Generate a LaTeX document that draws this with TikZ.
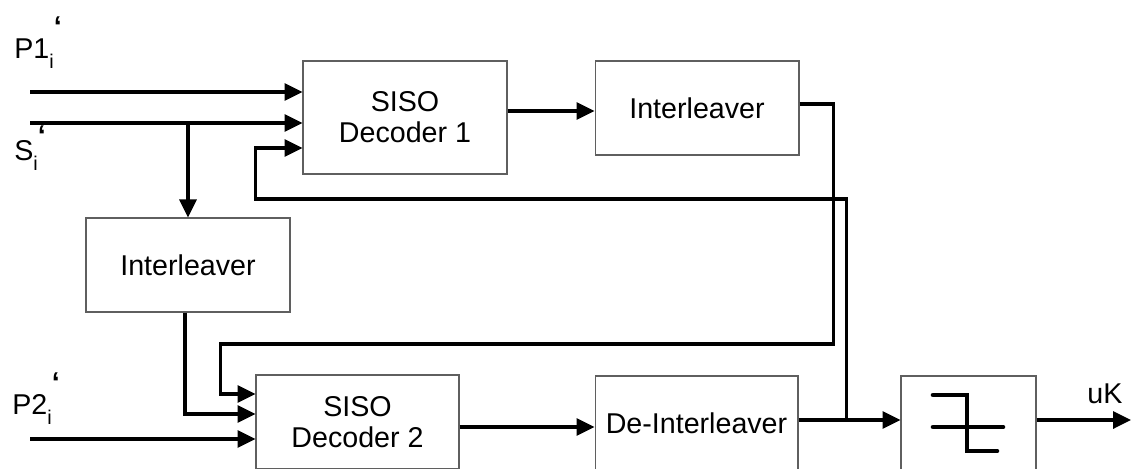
\documentclass[tikz,border=0pt]{standalone}
\usepackage{fontspec}
\setmainfont{Liberation Sans}
\usepackage{tikz}
\usetikzlibrary{arrows.meta, positioning, calc}
\definecolor{boxgray}{RGB}{95, 95, 95}
\tikzstyle{block} = [draw=boxgray, line width=0.6pt, minimum width=4.08cm, minimum height=1.88cm, align=center, inner sep=0pt]
\tikzstyle{arrow} = [-{Triangle[length=3.6mm, width=3.4mm]}, line width=1.9pt]
% input label: name, subscript i, and a raised quote mark
\newcommand{\inlabel}[3]{#1\raisebox{#2}{\fontsize{11.3}{12}\selectfont i}\raisebox{#3}{\bfseries ‘}}

\begin{document}
\begin{tikzpicture}[x=0.02cm, y=-0.02cm, font=\fontsize{16.3}{17.6}\selectfont]
    \useasboundingbox (0,0) rectangle (1132,468);
    \clip (0,0) rectangle (1132,468);

    % Blocks
    \node[block, minimum height=2.26cm] (dec1) at (405,117.5) {SISO\\Decoder 1};
    \node[block] (ilvA) at (697,108) {Interleaver};
    \node[block] (ilvB) at (188,265) {Interleaver};
    \node[block, minimum width=4.06cm] (dec2) at (357.5,422) {SISO\\Decoder 2};
    \node[block, minimum width=4.06cm] (deilv) at (696.5,423) {De-Interleaver};
    \node[block, minimum width=2.7cm] (hard) at (968.5,423) {};

    % Hard decision symbol
    \draw[line width=2.6pt, line cap=round]
        ([shift={(-35.5,-28)}]hard.center) -- ++(34,0) -- ++(0,56) -- ++(30,0);
    \draw[line width=2.6pt, line cap=round]
        ([shift={(-35.5,4)}]hard.center) -- ++(70,0);

    % Inputs
    \coordinate (p1in) at (30,92);
    \coordinate (sin) at (30,123);
    \coordinate (p2in) at (30,439);
    \coordinate (uk) at (1131,420);

    \node[anchor=base west, inner sep=0pt] (p1lbl) at (14,58) {\inlabel{P1}{-5.7pt}{12pt}};
    \node[anchor=base west, inner sep=0pt] (slbl) at (14,160) {\inlabel{S}{-5.7pt}{8pt}};
    \node[anchor=base west, inner sep=0pt] (p2lbl) at (12,414) {\inlabel{P2}{-5.7pt}{12.5pt}};

    \draw[arrow] (p1in) -- (p1in -| dec1.west);
    \draw[arrow] (sin) -- (sin -| dec1.west);
    \draw[arrow] (sin -| ilvB.north) -- (ilvB.north);
    \draw[arrow] (p2in) -- (p2in -| dec2.west);

    % Decoder 1 -> Interleaver
    \draw[arrow] ($(dec1.east)+(0,-6.5)$) -- ($(ilvA.west)+(0,3)$);

    % Interleaver -> Decoder 2
    \draw[arrow] ($(ilvA.east)+(0,-4)$) -- ++(34,0) -- ++(0,240)
        -| ($(dec2.west)+(-35,-28)$) -- ($(dec2.west)+(0,-28)$);
    \draw[arrow] ($(ilvB.south)+(-3,0)$) |- ($(dec2.west)+(0,-8)$);

    % Decoder 2 -> De-Interleaver -> decision
    \draw[arrow] ($(dec2.east)+(0,5)$) -- ($(deilv.west)+(0,4)$);
    \draw[arrow] ($(deilv.east)+(0,-3)$) -- ($(hard.west)+(0,-3)$);

    % Feedback to Decoder 1
    \coordinate (fb) at ($(deilv.east)+(48,-3)$);
    \draw[arrow] (fb) -- ++(0,-221) -| ($(dec1.west)+(-47,30.5)$) -- ($(dec1.west)+(0,30.5)$);

    % Output
    \draw[arrow] ($(hard.east)+(0,-3)$) -- (uk);
    \node[anchor=base west, inner sep=0pt] (uklbl) at (1087,403) {uK};
\end{tikzpicture}
\end{document}
